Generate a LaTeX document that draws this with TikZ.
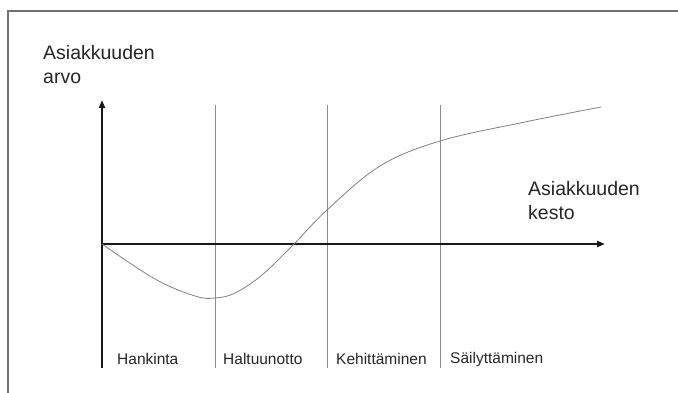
\documentclass[tikz,border=0pt]{standalone}
\usepackage{fontspec}
\setmainfont{Liberation Sans}
\usetikzlibrary{arrows.meta, positioning}

\begin{document}
\begin{tikzpicture}[
    x=1pt, y=-1pt,
    axis/.style={-{Triangle[length=8pt, width=6pt]}, line width=2pt, black!90},
    phase/.style={draw=black!45, line width=0.7pt},
    axlabel/.style={font=\fontsize{19.5}{24}\selectfont, text=black!85, align=left, anchor=north west, inner sep=0pt},
    phlabel/.style={font=\fontsize{15.5}{18}\selectfont, text=black!85, anchor=west, inner sep=0pt},
]
\useasboundingbox (0,0) rectangle (678,392);
\draw[black!55, line width=1.5pt] (8,420) -- (8,11) -- (700,11);

\coordinate (o) at (102,244);
\coordinate (ytop) at (102,100);
\coordinate (ybot) at (102,368);
\coordinate (xend) at (605,244);

\node[axlabel] (arvo) at (43,45) {Asiakkuuden\\arvo};
\node[axlabel] (kesto) at (528,181) {Asiakkuuden\\kesto};

\foreach \x in {215,327,440}
    \draw[phase] (\x,105) -- (\x,368);

\draw[axis] (ybot) -- (ytop);
\draw[axis] (o) -- (xend);

% curve of customer value
\draw[black!50, line width=0.8pt] plot[smooth, tension=0.6] coordinates {
    (102,244) (155,279) (195,296) (215,298) (235,293) (262,275) (294,244) (327,210)
    (380,166) (440,141) (520,123) (601,107)};

\node[phlabel] (hank) at (117,359) {Hankinta};
\node[phlabel] (halt) at (223,359) {Haltuunotto};
\node[phlabel] (kehi) at (336,359) {Kehittäminen};
\node[phlabel] (sail) at (450,359) {Säilyttäminen};

\end{tikzpicture}
\end{document}
